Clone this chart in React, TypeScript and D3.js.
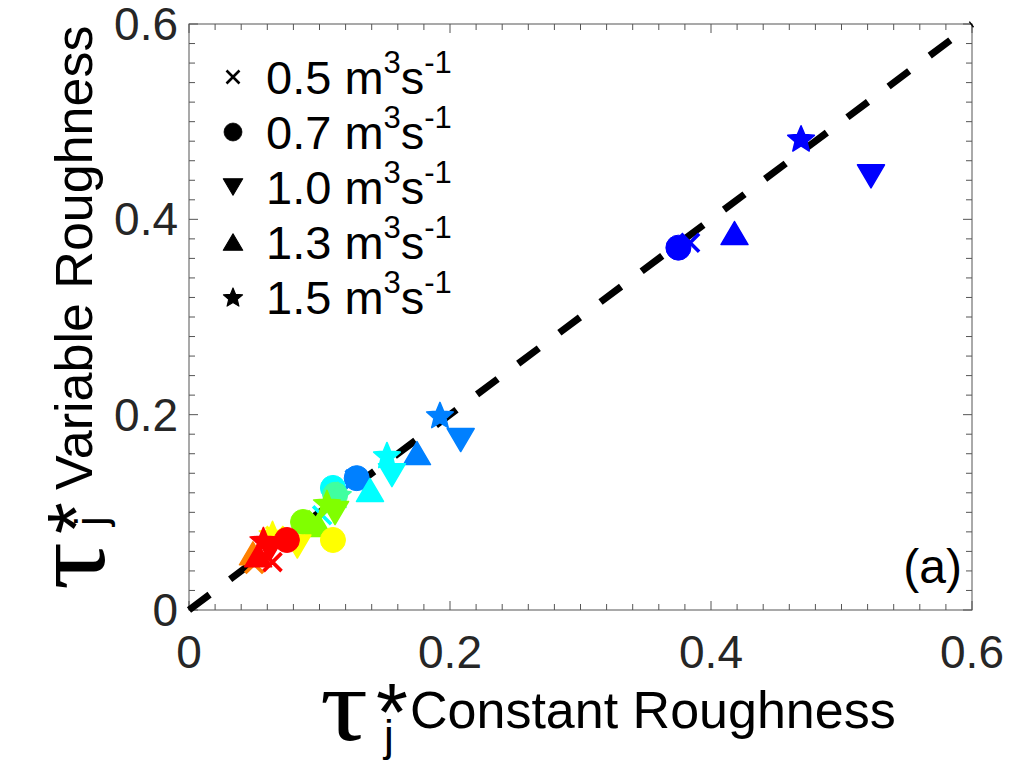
import React from "react";
import * as d3 from "d3";

const W = 1011;
const H = 763;

// Legend / marker definitions
const discharges = ["0.5", "0.7", "1.0", "1.3", "1.5"];
const markerTypes = ["x", "circle", "triDown", "triUp", "star"];
const groupColors = ["#0000ff", "#0080ff", "#00ffff", "#40ffa0", "#80ff00", "#ffff00", "#ff8000", "#ff0000"];

// Data per discharge: tau* constant roughness, tau* variable roughness, colour group
const q05Const = [0.384, 0.127, 0.102, 0.098, 0.066, 0.05, 0.064];
const q05Var = [0.376, 0.134, 0.097, 0.092, 0.076, 0.047, 0.049];
const q05Group = [0, 1, 2, 4, 5, 6, 7];

const q07Const = [0.375, 0.1285, 0.1103, 0.112, 0.0874, 0.1103, 0.075];
const q07Var = [0.371, 0.135, 0.125, 0.118, 0.0901, 0.0717, 0.0717];
const q07Group = [0, 1, 2, 3, 4, 5, 7];

const q10Const = [0.5226, 0.2082, 0.1555, 0.1119, 0.083, 0.062];
const q10Var = [0.444, 0.174, 0.138, 0.0993, 0.065, 0.062];
const q10Group = [0, 1, 2, 4, 5, 7];

const q13Const = [0.418, 0.1747, 0.1387, 0.099, 0.049, 0.053];
const q13Var = [0.386, 0.1607, 0.1229, 0.087, 0.058, 0.056];
const q13Group = [0, 1, 2, 4, 6, 7];

const q15Const = [0.469, 0.1923, 0.1517, 0.114, 0.1057, 0.064, 0.057];
const q15Var = [0.483, 0.1997, 0.1587, 0.118, 0.1096, 0.078, 0.0717];
const q15Group = [0, 1, 2, 3, 4, 5, 7];

const majorTicks = [0, 0.2, 0.4, 0.6];
const majorLabels = ["0", "0.2", "0.4", "0.6"];
const minorStep = 0.02;

const series = [
  { xs: q05Const, ys: q05Var, gs: q05Group },
  { xs: q07Const, ys: q07Var, gs: q07Group },
  { xs: q10Const, ys: q10Var, gs: q10Group },
  { xs: q13Const, ys: q13Var, gs: q13Group },
  { xs: q15Const, ys: q15Var, gs: q15Group },
];

function starPath(R: number, ratio: number) {
  const pts: [number, number][] = [];
  for (let i = 0; i < 10; i++) {
    const r = i % 2 === 0 ? R : R * ratio;
    const a = -Math.PI / 2 + (i * Math.PI) / 5;
    pts.push([r * Math.cos(a), r * Math.sin(a) + R * 0.1]);
  }
  return d3.line()(pts.concat([pts[0]])) + "Z";
}

function triPath(up: boolean, hw: number, h: number) {
  const s = up ? 1 : -1;
  const pts: [number, number][] = [
    [0, (-s * h) / 2],
    [hw, (s * h) / 2],
    [-hw, (s * h) / 2],
    [0, (-s * h) / 2],
  ];
  return d3.line()(pts) + "Z";
}

function Marker({ type, x, y, color, k }: { type: string; x: number; y: number; color: string; k: number }) {
  const t = `translate(${x},${y}) scale(${k})`;
  if (type === "x") {
    return (
      <path
        transform={t}
        d="M-9,-9L9,9M-9,9L9,-9"
        stroke={color}
        strokeWidth={3.6}
        fill="none"
      />
    );
  }
  if (type === "circle") {
    return <circle transform={t} r={12.5} fill={color} stroke={color} strokeWidth={1} />;
  }
  if (type === "triDown" || type === "triUp") {
    return (
      <path
        transform={t}
        d={triPath(type === "triUp", 13.5, 23)}
        fill={color}
        stroke={color}
        strokeWidth={1.5}
        strokeLinejoin="round"
      />
    );
  }
  return (
    <path transform={t} d={starPath(14, 0.45)} fill={color} stroke={color} strokeWidth={1.5} strokeLinejoin="round" />
  );
}

export default function App() {
  const left = 189;
  const right = 972;
  const top = 24;
  const bottom = 610;
  const x = d3.scaleLinear().domain([0, 0.6]).range([left, right]);
  const y = d3.scaleLinear().domain([0, 0.6]).range([bottom, top]);

  const minor = d3.range(0, 0.6 + 1e-9, minorStep);
  const isMajor = (v: number) => majorTicks.some((m) => Math.abs(m - v) < 1e-6);

  const points: { x: number; y: number; g: number; type: string; order: number }[] = [];
  series.forEach((s, si) => {
    s.xs.forEach((xv, i) => {
      points.push({ x: xv, y: s.ys[i], g: s.gs[i], type: markerTypes[si], order: si });
    });
  });
  points.sort((a, b) => a.g - b.g || a.order - b.order);

  const axisColor = "#555555";
  const textColor = "#262626";
  const sans = "Liberation Sans, Arial, Helvetica, sans-serif";
  const serif = "Liberation Serif, Times New Roman, serif";

  const legendY = [77, 132, 187, 242, 297];

  return (
    <div style={{ position: "absolute", left: 0, top: 0 }}>
      <svg width={W} height={H} viewBox={`0 0 ${W} ${H}`} style={{ display: "block", background: "#fff" }}>
        <rect x={0} y={0} width={W} height={H} fill="#fff" />
        {/* frame */}
        <rect x={left} y={top} width={right - left} height={bottom - top} fill="none" stroke={axisColor} strokeWidth={1} />
        {/* ticks */}
        {minor.map((v, i) => {
          const len = isMajor(v) ? 9 : 6;
          return (
            <g key={"t" + i} stroke={axisColor} strokeWidth={1}>
              <line x1={x(v)} x2={x(v)} y1={bottom} y2={bottom - len} />
              <line x1={x(v)} x2={x(v)} y1={top} y2={top + len} />
              <line x1={left} x2={left + len} y1={y(v)} y2={y(v)} />
              <line x1={right} x2={right - len} y1={y(v)} y2={y(v)} />
            </g>
          );
        })}
        {/* tick labels */}
        {majorTicks.map((v, i) => (
          <text
            key={"xl" + i}
            x={x(v)}
            y={bottom + 58}
            textAnchor="middle"
            fontFamily={sans}
            fontSize={46}
            fill={textColor}
          >
            {majorLabels[i]}
          </text>
        ))}
        {majorTicks.map((v, i) => (
          <text
            key={"yl" + i}
            x={left - 11}
            y={y(v) + 16}
            textAnchor="end"
            fontFamily={sans}
            fontSize={46}
            fill={textColor}
          >
            {majorLabels[i]}
          </text>
        ))}
        {/* 1:1 line */}
        <line
          x1={x(0)}
          y1={y(0)}
          x2={x(0.6)}
          y2={y(0.6)}
          stroke="#000"
          strokeWidth={7}
          strokeDasharray="25.7 25.7"
        />
        {/* data */}
        {points.map((p, i) => (
          <Marker key={"p" + i} type={p.type} x={x(p.x)} y={y(p.y)} color={groupColors[p.g]} k={1} />
        ))}
        {/* legend */}
        {discharges.map((d, i) => (
          <g key={"lg" + i}>
            <Marker type={markerTypes[i]} x={233} y={legendY[i]} color="#000" k={0.72} />
            <text x={266} y={legendY[i] + 17} fontFamily={sans} fontSize={47} fill="#000">
              {d + " m"}
              <tspan fontSize={31} dy={-21}>3</tspan>
              <tspan fontSize={47} dy={21}>s</tspan>
              <tspan fontSize={31} dy={-21}>-1</tspan>
            </text>
          </g>
        ))}
        {/* panel label */}
        <text x={962} y={583} textAnchor="end" fontFamily={sans} fontSize={48} fill="#000">
          (a)
        </text>
        {/* x title */}
        <g fill="#000">
          <text transform="translate(320,740) scale(1.15,1)" fontFamily={serif} fontSize={104}>τ</text>
          <text x={376} y={740} fontFamily={sans} fontSize={82}>*</text>
          <text x={384} y={751} fontFamily={sans} fontSize={44}>j</text>
          <text x={410} y={728} fontFamily={sans} fontSize={52}>Constant Roughness</text>
        </g>
        {/* y title */}
        <g fill="#000" transform="rotate(-90)">
          <text transform="translate(-590,104) scale(1.15,1)" fontFamily={serif} fontSize={104}>τ</text>
          <text x={-534} y={104} fontFamily={sans} fontSize={82}>*</text>
          <text x={-526} y={106} fontFamily={sans} fontSize={44}>j</text>
          <text x={-490} y={92} fontFamily={sans} fontSize={52}>Variable Roughness</text>
        </g>
      </svg>
    </div>
  );
}
